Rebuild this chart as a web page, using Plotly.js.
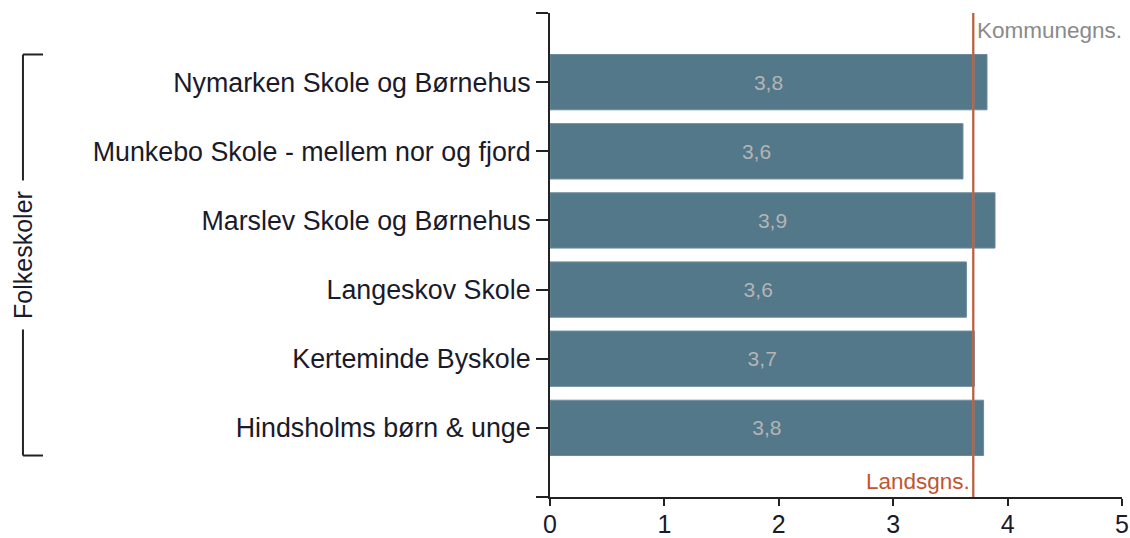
<!DOCTYPE html>
<html>
<head>
<meta charset="utf-8">
<script src="https://cdn.plot.ly/plotly-3.0.1.min.js"></script>
<style>html,body{margin:0;padding:0;background:#fff;}#chart{width:1130px;height:538px;}</style>
</head>
<body>
<div id="chart"></div>
<script>
const categories = [
  "Nymarken Skole og Børnehus",
  "Munkebo Skole - mellem nor og fjord",
  "Marslev Skole og Børnehus",
  "Langeskov Skole",
  "Kerteminde Byskole",
  "Hindsholms børn & unge"
];
const values = [3.82, 3.61, 3.89, 3.64, 3.71, 3.79];
const kommuneAvg = 3.70;
const landsAvg = 3.70;
const groupLabel = "Folkeskoler";
const xTicks = [0, 1, 2, 3, 4, 5];

const FONT = "Arial, 'Liberation Sans', sans-serif";
const idx = categories.map((c, i) => i);
const barWidth = 0.8;

const trace = {
  type: 'bar',
  orientation: 'h',
  x: values,
  y: idx,
  width: barWidth,
  marker: {color: '#52788a', line: {color: '#6d8c9b', width: 1}},
  texttemplate: '%{x:.1f}',
  textposition: 'inside',
  insidetextanchor: 'middle',
  textfont: {family: FONT, size: 21, color: '#b4b4b4'},
  hoverinfo: 'none'
};

const n = categories.length;
const bx0 = -0.9214, bx1 = -0.8864;
const yTop = -barWidth / 2, yBot = (n - 1) + barWidth / 2;

const layout = {
  width: 1130, height: 538,
  margin: {l: 550, r: 8, t: 13, b: 41, pad: 0},
  paper_bgcolor: '#fff', plot_bgcolor: '#fff',
  separators: ',.',
  showlegend: false,
  bargap: 0.2,
  xaxis: {
    range: [0, 5], tickvals: xTicks, ticktext: xTicks.map(String),
    showgrid: false, zeroline: false,
    showline: true, linecolor: '#222', linewidth: 2,
    ticks: 'outside', ticklen: 7, tickwidth: 2, tickcolor: '#222',
    tickfont: {family: FONT, size: 25, color: '#1a1a2a'},
    ticklabelstandoff: -3,
    fixedrange: true
  },
  yaxis: {
    range: [n, -1],
    tickvals: [-1].concat(idx, [n]),
    ticktext: [''].concat(categories, ['']),
    showgrid: false, zeroline: false,
    showline: true, linecolor: '#222', linewidth: 2,
    ticks: 'outside', ticklen: 12, tickwidth: 2, tickcolor: '#222',
    tickfont: {family: FONT, size: 26.8, color: '#1a1a2a'},
    ticklabelstandoff: 0,
    fixedrange: true
  },
  shapes: [
    {type: 'line', xref: 'x', yref: 'paper', x0: kommuneAvg, x1: kommuneAvg, y0: 0, y1: 1,
     line: {color: '#999', width: 2}},
    {type: 'line', xref: 'x', yref: 'paper', x0: landsAvg, x1: landsAvg, y0: 0, y1: 1,
     line: {color: '#cc5a32', width: 2}},
    {type: 'line', xref: 'paper', yref: 'y', x0: bx0, x1: bx0, y0: yTop, y1: yBot,
     line: {color: '#222', width: 2}},
    {type: 'line', xref: 'paper', yref: 'y', x0: bx0, x1: bx1, y0: yTop, y1: yTop,
     line: {color: '#222', width: 2}},
    {type: 'line', xref: 'paper', yref: 'y', x0: bx0, x1: bx1, y0: yBot, y1: yBot,
     line: {color: '#222', width: 2}}
  ],
  annotations: [
    {xref: 'x', yref: 'paper', x: kommuneAvg, y: 1, xanchor: 'left', yanchor: 'top',
     xshift: 2, yshift: -3, text: 'Kommunegns.', showarrow: false,
     font: {family: FONT, size: 22.5, color: '#8a8a8a'}},
    {xref: 'x', yref: 'paper', x: landsAvg, y: 0, xanchor: 'right', yanchor: 'bottom',
     xshift: -1, yshift: 1, text: 'Landsgns.', showarrow: false,
     font: {family: FONT, size: 22.5, color: '#c0562f'}},
    {xref: 'paper', yref: 'paper', x: bx0, y: 0.5, xanchor: 'center', yanchor: 'middle',
     text: groupLabel, textangle: -90, showarrow: false, bgcolor: '#fff', borderpad: 10,
     font: {family: FONT, size: 25, color: '#1a1a2a'}}
  ]
};

Plotly.newPlot('chart', [trace], layout, {displayModeBar: false, staticPlot: true});
</script>
</body>
</html>
